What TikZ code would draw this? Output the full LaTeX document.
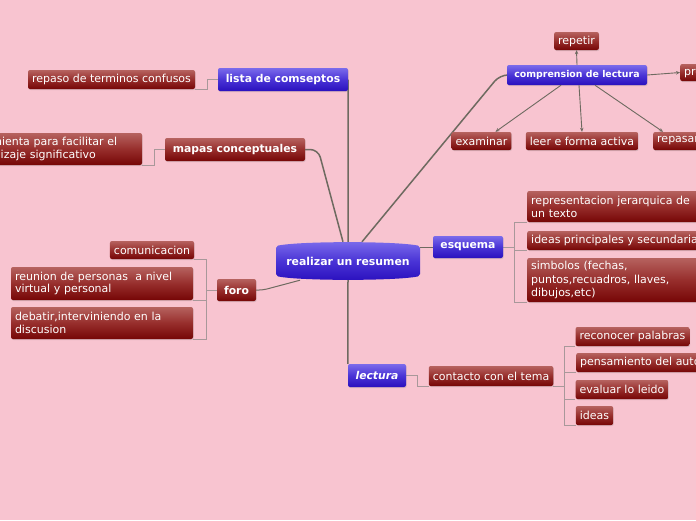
\documentclass[tikz,border=0pt]{standalone}
\usepackage{fontspec}
\setmainfont{DejaVu Sans}
\usetikzlibrary{shadows,backgrounds,arrows.meta}
\definecolor{bg}{HTML}{F8C4D0}
\definecolor{redtop}{HTML}{B6625F}
\definecolor{redmid}{HTML}{972E2C}
\definecolor{redbot}{HTML}{760606}
\definecolor{bluetop}{HTML}{7B6BEB}
\definecolor{bluemid}{HTML}{4A34D6}
\definecolor{bluebot}{HTML}{2A10BE}
\definecolor{linkdark}{HTML}{6E6A60}
\definecolor{linklight}{HTML}{A8989A}
\begin{document}
\begin{tikzpicture}[x=1pt,y=-1pt,
  box/.style={rounded corners=2pt, text=white, inner xsep=4pt, inner ysep=2pt,
    font=\fontsize{11}{12.8}\selectfont, align=left,
    drop shadow={opacity=0.25,shadow xshift=0.6pt,shadow yshift=-1pt}},
  redbox/.style={box, top color=redtop, bottom color=redbot, middle color=redmid},
  redbold/.style={redbox, font=\fontsize{10.8}{12.8}\selectfont\bfseries},
  bluebox/.style={box, top color=bluetop, bottom color=bluebot, middle color=bluemid,
    font=\fontsize{10.8}{12.8}\selectfont\bfseries},
  mainlink/.style={draw=linkdark, line width=1.5pt},
  thinlink/.style={draw=linkdark, line width=1pt},
  sublink/.style={draw=linklight, line width=0.8pt},
  arrlink/.style={draw=linkdark, line width=0.9pt, -{Stealth[length=4pt,width=3.5pt]}}]
\useasboundingbox (0,0) rectangle (696,520);
\clip (0,0) rectangle (696,520);

% root
\node[text=white, font=\fontsize{10.9}{12}\selectfont\bfseries, minimum width=144pt, minimum height=38pt] (root) at (348,261) {realizar un resumen};

% lista
\node[bluebox, minimum width=130pt, minimum height=23pt] (lista) at (283,79.5) {lista de comseptos};
\node[redbox, minimum width=167pt, minimum height=19pt] (repaso) at (111.5,79.5) {repaso de terminos confusos};

% mapas
\node[redbold, minimum width=140pt, minimum height=23pt] (mapas) at (235,149.5) {mapas conceptuales};
\node[redbox, text width=176pt, minimum height=32pt] (herr) at (50,149) {herramienta para facilitar el\\aprendizaje significativo};

% comprension
\node[bluebox, font=\fontsize{9.4}{11}\selectfont\bfseries, minimum width=140pt, minimum height=20pt] (compr) at (577,75) {comprension de lectura};
\node[redbox, minimum width=43pt, minimum height=18pt] (repetir) at (576.5,41) {repetir};
\node[redbox, anchor=west, minimum height=17pt] (pr) at (680,72.5) {preguntar};
\node[redbox, minimum width=59pt, minimum height=18pt] (exam) at (481.5,141) {examinar};
\node[redbox, minimum width=112pt, minimum height=18pt] (leer) at (582,141) {leer e forma activa};
\node[redbox, anchor=west, minimum height=18pt] (repasar) at (653,141) {repasar};

% esquema
\node[bluebox, minimum width=70pt, minimum height=22pt] (esquema) at (468,247) {esquema};
\node[redbox, anchor=west, text width=175pt, minimum height=31pt] (repjer) at (527,206.5) {representacion jerarquica de\\un texto};
\node[redbox, anchor=west, minimum height=19pt] (ideasp) at (527,240.5) {ideas principales y secundarias};
\node[redbox, anchor=west, text width=175pt, minimum height=44pt, font=\fontsize{11}{13.4}\selectfont] (simb) at (527,280) {simbolos (fechas,\\puntos,recuadros, llaves,\\dibujos,etc)};

% foro
\node[redbold, minimum width=39pt, minimum height=22pt] (foro) at (236.5,290) {foro};
\node[redbox, minimum width=82pt, minimum height=18pt] (comun) at (152,250) {comunicacion};
\node[redbox, text width=174pt, minimum height=33pt] (reunion) at (102,283.5) {reunion de personas\ \ a nivel\\virtual y personal};
\node[redbox, text width=174pt, minimum height=32pt] (debatir) at (102,323) {debatir,interviniendo en la\\discusion};

% lectura
\node[bluebox, font=\fontsize{10.8}{12.8}\selectfont\bfseries\itshape, minimum width=58pt, minimum height=23pt] (lectura) at (377,375.5) {lectura};
\node[redbox, minimum width=124pt, minimum height=20pt] (contacto) at (491,376) {contacto con el tema};
\node[redbox, minimum width=113pt, minimum height=19pt] (recon) at (632.5,336.5) {reconocer palabras};
\node[redbox, anchor=west, minimum height=19pt] (pens) at (576,362.5) {pensamiento del autor};
\node[redbox, minimum width=92pt, minimum height=19pt] (evaluar) at (622,389.5) {evaluar lo leido};
\node[redbox, minimum width=37pt, minimum height=19pt] (ideas) at (594.5,415.5) {ideas};

% arrows from comprension
\draw[arrlink] (compr.north) -- (repetir.south);
\draw[arrlink] (compr.east) -- (pr.west);
\draw[arrlink] ([xshift=-16pt]compr.south) -- ([xshift=14pt]exam.north);
\draw[arrlink] ([xshift=2pt]compr.south) -- (leer.north);
\draw[arrlink] ([xshift=18pt]compr.south) -- ([xshift=10pt]repasar.north west);

\begin{scope}[on background layer]
  \fill[bg] (0,0) rectangle (696,520);
  % main links
  \draw[mainlink] (root.north) -- (lista.east);
  \draw[mainlink, rounded corners=8pt] ([xshift=-5pt]root.north) -- ([xshift=13pt]mapas.east) -- (mapas.east);
  \draw[mainlink, rounded corners=8pt] ([xshift=14pt]root.north) -- ([xshift=-7pt]compr.west) -- (compr.west);
  \draw[thinlink] (root.east |- esquema.west) -- (esquema.west);
  \draw[thinlink, rounded corners=4pt] ([xshift=-48pt]root.south) -- ([xshift=7pt]foro.east) -- (foro.east);
  \draw[mainlink] (root.south) -- (lectura.north west);
  % sub links
  \draw[sublink] (lista.west) -- ++(-10,0) |- (repaso.south east);
  \draw[sublink] (mapas.west) -- ++(-10,0) |- (herr.south east);
  \draw[sublink] (foro.west) -- ++(-10,0) |- (comun.south east);
  \draw[sublink] (foro.west) -- ++(-10,0) |- (reunion.south east);
  \draw[sublink] (foro.west) -- ++(-10,0) |- (debatir.south east);
  \draw[sublink] (esquema.east) -- ++(11,0) |- (repjer.south west);
  \draw[sublink] (esquema.east) -- ++(11,0) |- (ideasp.south west);
  \draw[sublink] (esquema.east) -- ++(11,0) |- (simb.south west);
  \draw[sublink] (lectura.east) -- ++(11,0) |- (contacto.south west);
  \draw[sublink] (contacto.south east) -- ++(11,0) |- (recon.south west);
  \draw[sublink] (contacto.south east) -- ++(11,0) |- (pens.south west);
  \draw[sublink] (contacto.south east) -- ++(11,0) |- (evaluar.south west);
  \draw[sublink] (contacto.south east) -- ++(11,0) |- (ideas.south west);
  % root shape
  \shade[top color=bluetop, bottom color=bluebot, middle color=bluemid, rounded corners=2pt]
    (276,246) .. controls (300,241) and (396,241) .. (420,246) -- (420,276)
    .. controls (396,281) and (300,281) .. (276,276) -- cycle;
\end{scope}
\end{tikzpicture}
\end{document}
